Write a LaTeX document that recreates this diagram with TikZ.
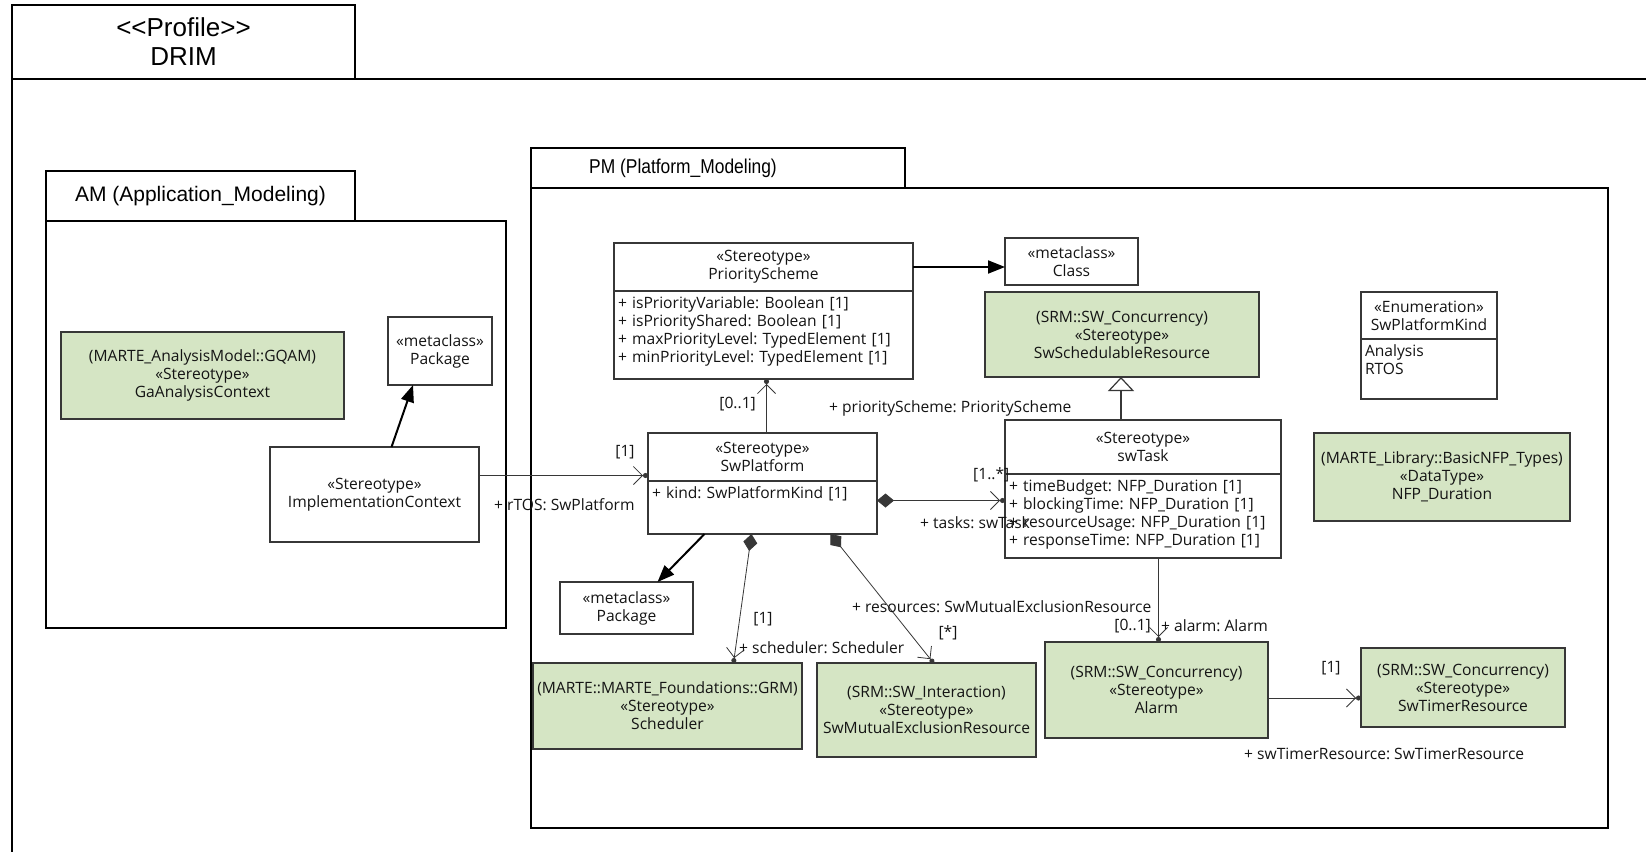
\documentclass[tikz,border=0pt]{standalone}
\usepackage{fontspec}
\setmainfont{Open Sans}
\newfontfamily\tabfont{Liberation Sans}
\usetikzlibrary{positioning}
\usetikzlibrary{arrows.meta}
\frenchspacing

\definecolor{marteGreen}{RGB}{213,229,196}
\definecolor{umlLine}{RGB}{55,55,55}
\definecolor{umlText}{RGB}{20,20,20}
\newcommand\boxfnt{\fontsize{15.6}{18}\selectfont}

\tikzset{
  frame/.style={draw=black,line width=1.8pt,inner sep=0pt,outer sep=0pt},
  box/.style={draw=umlLine,line width=1.3pt,fill=white,inner sep=0pt,outer sep=0pt,
    align=center,font=\boxfnt,text=umlText},
  marte/.style={box,fill=marteGreen},
  attr/.style={box,align=left,inner xsep=4pt,inner ysep=3pt,text height=14pt},
  ext/.style={line width=2pt,-{Triangle[length=17pt,width=13pt]}},
  assoc/.style={line width=0.8pt,draw=umlLine,
    -{Straight Barb[length=9pt,width=18pt]Circle[length=5pt]}},
  comp/.style={line width=0.8pt,draw=umlLine,
    {Diamond[length=17pt,width=14pt]}-{Straight Barb[length=9pt,width=18pt]Circle[length=5pt]}},
  gen/.style={line width=1.2pt,draw=umlLine,-{Triangle[open,length=14pt,width=26pt,fill=white]}},
  lbl/.style={font=\boxfnt,inner sep=1pt,text=umlText},
}

\begin{document}
\begin{tikzpicture}[x=1pt,y=-1pt]
\fill[white] (0,0) rectangle (1646,852);
\useasboundingbox (0,0) rectangle (1646,852);

% profile frame
\node[frame,minimum width=343,minimum height=74,align=center,
  font=\tabfont\fontsize{26}{29}\selectfont] (profTab) at (183.5,42)
  {\textless\textless Profile\textgreater\textgreater\\DRIM};
\draw[line width=1.8pt] (profTab.south west) -- (1646,79);
\draw[line width=1.8pt] (profTab.south west) -- (12,852);

% packages
\node[frame,minimum width=309,minimum height=50,font=\tabfont\fontsize{21}{25}\selectfont]
  (amTab) at (200.5,196) {AM (Application\_Modeling)};
\node[frame,minimum width=460,minimum height=407] (amBody) at (276,424.5) {};
\node[frame,minimum width=374,minimum height=40] (pmTab) at (718,168) {};
\node[font=\tabfont\fontsize{20}{24}\selectfont,inner sep=0pt,anchor=west,right=58pt of pmTab.west]
  (pmName) {\scalebox{0.87}[1]{PM (Platform\_Modeling)}};
\node[frame,minimum width=1077,minimum height=640] (pmBody) at (1069.5,508) {};

% AM content
\node[marte,minimum width=283,minimum height=87] (gaCtx) at (202.5,375.5)
  {(MARTE\_AnalysisModel::GQAM)\\«Stereotype»\\GaAnalysisContext};
\node[box,minimum width=104,minimum height=68] (amPkg) at (440,351) {«metaclass»\\Package};
\node[box,minimum width=209,minimum height=95] (implCtx) at (374.5,494.5)
  {«Stereotype»\\ImplementationContext};

% PM content
\node[box,minimum width=299,minimum height=48] (psHead) at (763.5,267) {«Stereotype»\\PriorityScheme};
\node[attr,minimum width=299,text width=291,text depth=68,below=0pt of psHead] (psAttr)
  {+ isPriorityVariable: Boolean [1]\\+ isPriorityShared: Boolean [1]\\
   + maxPriorityLevel: TypedElement [1]\\+ minPriorityLevel: TypedElement [1]};
\node[box,minimum width=133,minimum height=47] (clsMeta) at (1071.5,261.5) {«metaclass»\\Class};
\node[marte,minimum width=274,minimum height=85] (swSched) at (1122,334.5)
  {(SRM::SW\_Concurrency)\\«Stereotype»\\SwSchedulableResource};
\node[box,minimum width=136,minimum height=47] (enumHead) at (1429,315.5) {«Enumeration»\\SwPlatformKind};
\node[attr,minimum width=136,text width=128,text depth=40,below=0pt of enumHead] (enumAttr)
  {Analysis\\RTOS};
\node[marte,minimum width=256,minimum height=88] (nfpDur) at (1442,477)
  {(MARTE\_Library::BasicNFP\_Types)\\«DataType»\\NFP\_Duration};
\node[box,minimum width=229,minimum height=48] (swpHead) at (762.5,457) {«Stereotype»\\SwPlatform};
\node[attr,minimum width=229,text width=221,text depth=33,below=0pt of swpHead] (swpAttr)
  {+ kind: SwPlatformKind [1]};
\node[box,minimum width=276,minimum height=54] (swtHead) at (1143,447) {«Stereotype»\\swTask};
\node[attr,minimum width=276,text width=268,text depth=64,below=0pt of swtHead] (swtAttr)
  {+ timeBudget: NFP\_Duration [1]\\+ blockingTime: NFP\_Duration [1]\\
   + resourceUsage: NFP\_Duration [1]\\+ responseTime: NFP\_Duration [1]};
\node[box,minimum width=133,minimum height=52] (pmPkg) at (626.5,608) {«metaclass»\\Package};
\node[marte,minimum width=269,minimum height=86] (sched) at (667.5,706)
  {(MARTE::MARTE\_Foundations::GRM)\\«Stereotype»\\Scheduler};
\node[marte,minimum width=219,minimum height=94] (mutex) at (926.5,710)
  {(SRM::SW\_Interaction)\\«Stereotype»\\SwMutualExclusionResource};
\node[marte,minimum width=223,minimum height=96] (alarm) at (1156.5,690)
  {(SRM::SW\_Concurrency)\\«Stereotype»\\Alarm};
\node[marte,minimum width=204,minimum height=79] (timer) at (1463,687.5)
  {(SRM::SW\_Concurrency)\\«Stereotype»\\SwTimerResource};

% extensions and generalization
\draw[ext] ([xshift=17pt]implCtx.north) -- ([xshift=-27pt]amPkg.south);
\draw[ext] (psHead.east) -- (psHead.east -| clsMeta.west);
\draw[ext] ([xshift=-58pt]swpAttr.south) -- ([xshift=31pt]pmPkg.north);
\draw[gen] ([xshift=-22pt]swtHead.north) -- ([xshift=-22pt]swtHead.north |- swSched.south);

% associations
\draw[assoc] ([yshift=19pt]implCtx.east) -- ([yshift=19pt]implCtx.east -| swpHead.west);
\draw[assoc] ([xshift=4pt]swpHead.north) -- ([xshift=4pt]swpHead.north |- psAttr.south);
\draw[comp] ([yshift=7pt]swpAttr.east) -- ([yshift=7pt]swpAttr.east -| swtAttr.west);
\draw[comp] ([xshift=-11pt]swpAttr.south) -- ([xshift=66pt]sched.north);
\draw[comp] ([xshift=68pt]swpAttr.south) -- ([xshift=7pt]mutex.north);
\draw[assoc] ([xshift=2pt]alarm.north |- swtAttr.south) -- ([xshift=2pt]alarm.north);
\draw[assoc] ([yshift=-8pt]alarm.east) -- ([yshift=-8pt]alarm.east -| timer.west);

% role names and multiplicities
\node[lbl] (rtosMul) at (625,452) {[1]};
\node[lbl,anchor=west] (rtosRole) at (493,505) {+ rTOS: SwPlatform};
\node[lbl,anchor=east] (psMul) at (757,404) {[0..1]};
\node[lbl,anchor=west] (psRole) at (828,408) {+ priorityScheme: PriorityScheme};
\node[lbl,anchor=west] (taskMul) at (972,475) {[1..*]};
\node[lbl,anchor=west] (taskRole) at (919,523) {+ tasks: swTask};
\node[lbl] (schedMul) at (763,619) {[1]};
\node[lbl,anchor=west] (schedRole) at (738,648) {+ scheduler: Scheduler};
\node[lbl,anchor=west] (resRole) at (851,607) {+ resources: SwMutualExclusionResource};
\node[lbl] (resMul) at (948,633) {[*]};
\node[lbl,anchor=east] (alarmMul) at (1152,626) {[0..1]};
\node[lbl,anchor=west] (alarmRole) at (1160,626) {+ alarm: Alarm};
\node[lbl] (timerMul) at (1331,668) {[1]};
\node[lbl,anchor=west] (timerRole) at (1243,754) {+ swTimerResource: SwTimerResource};
\end{tikzpicture}
\end{document}
